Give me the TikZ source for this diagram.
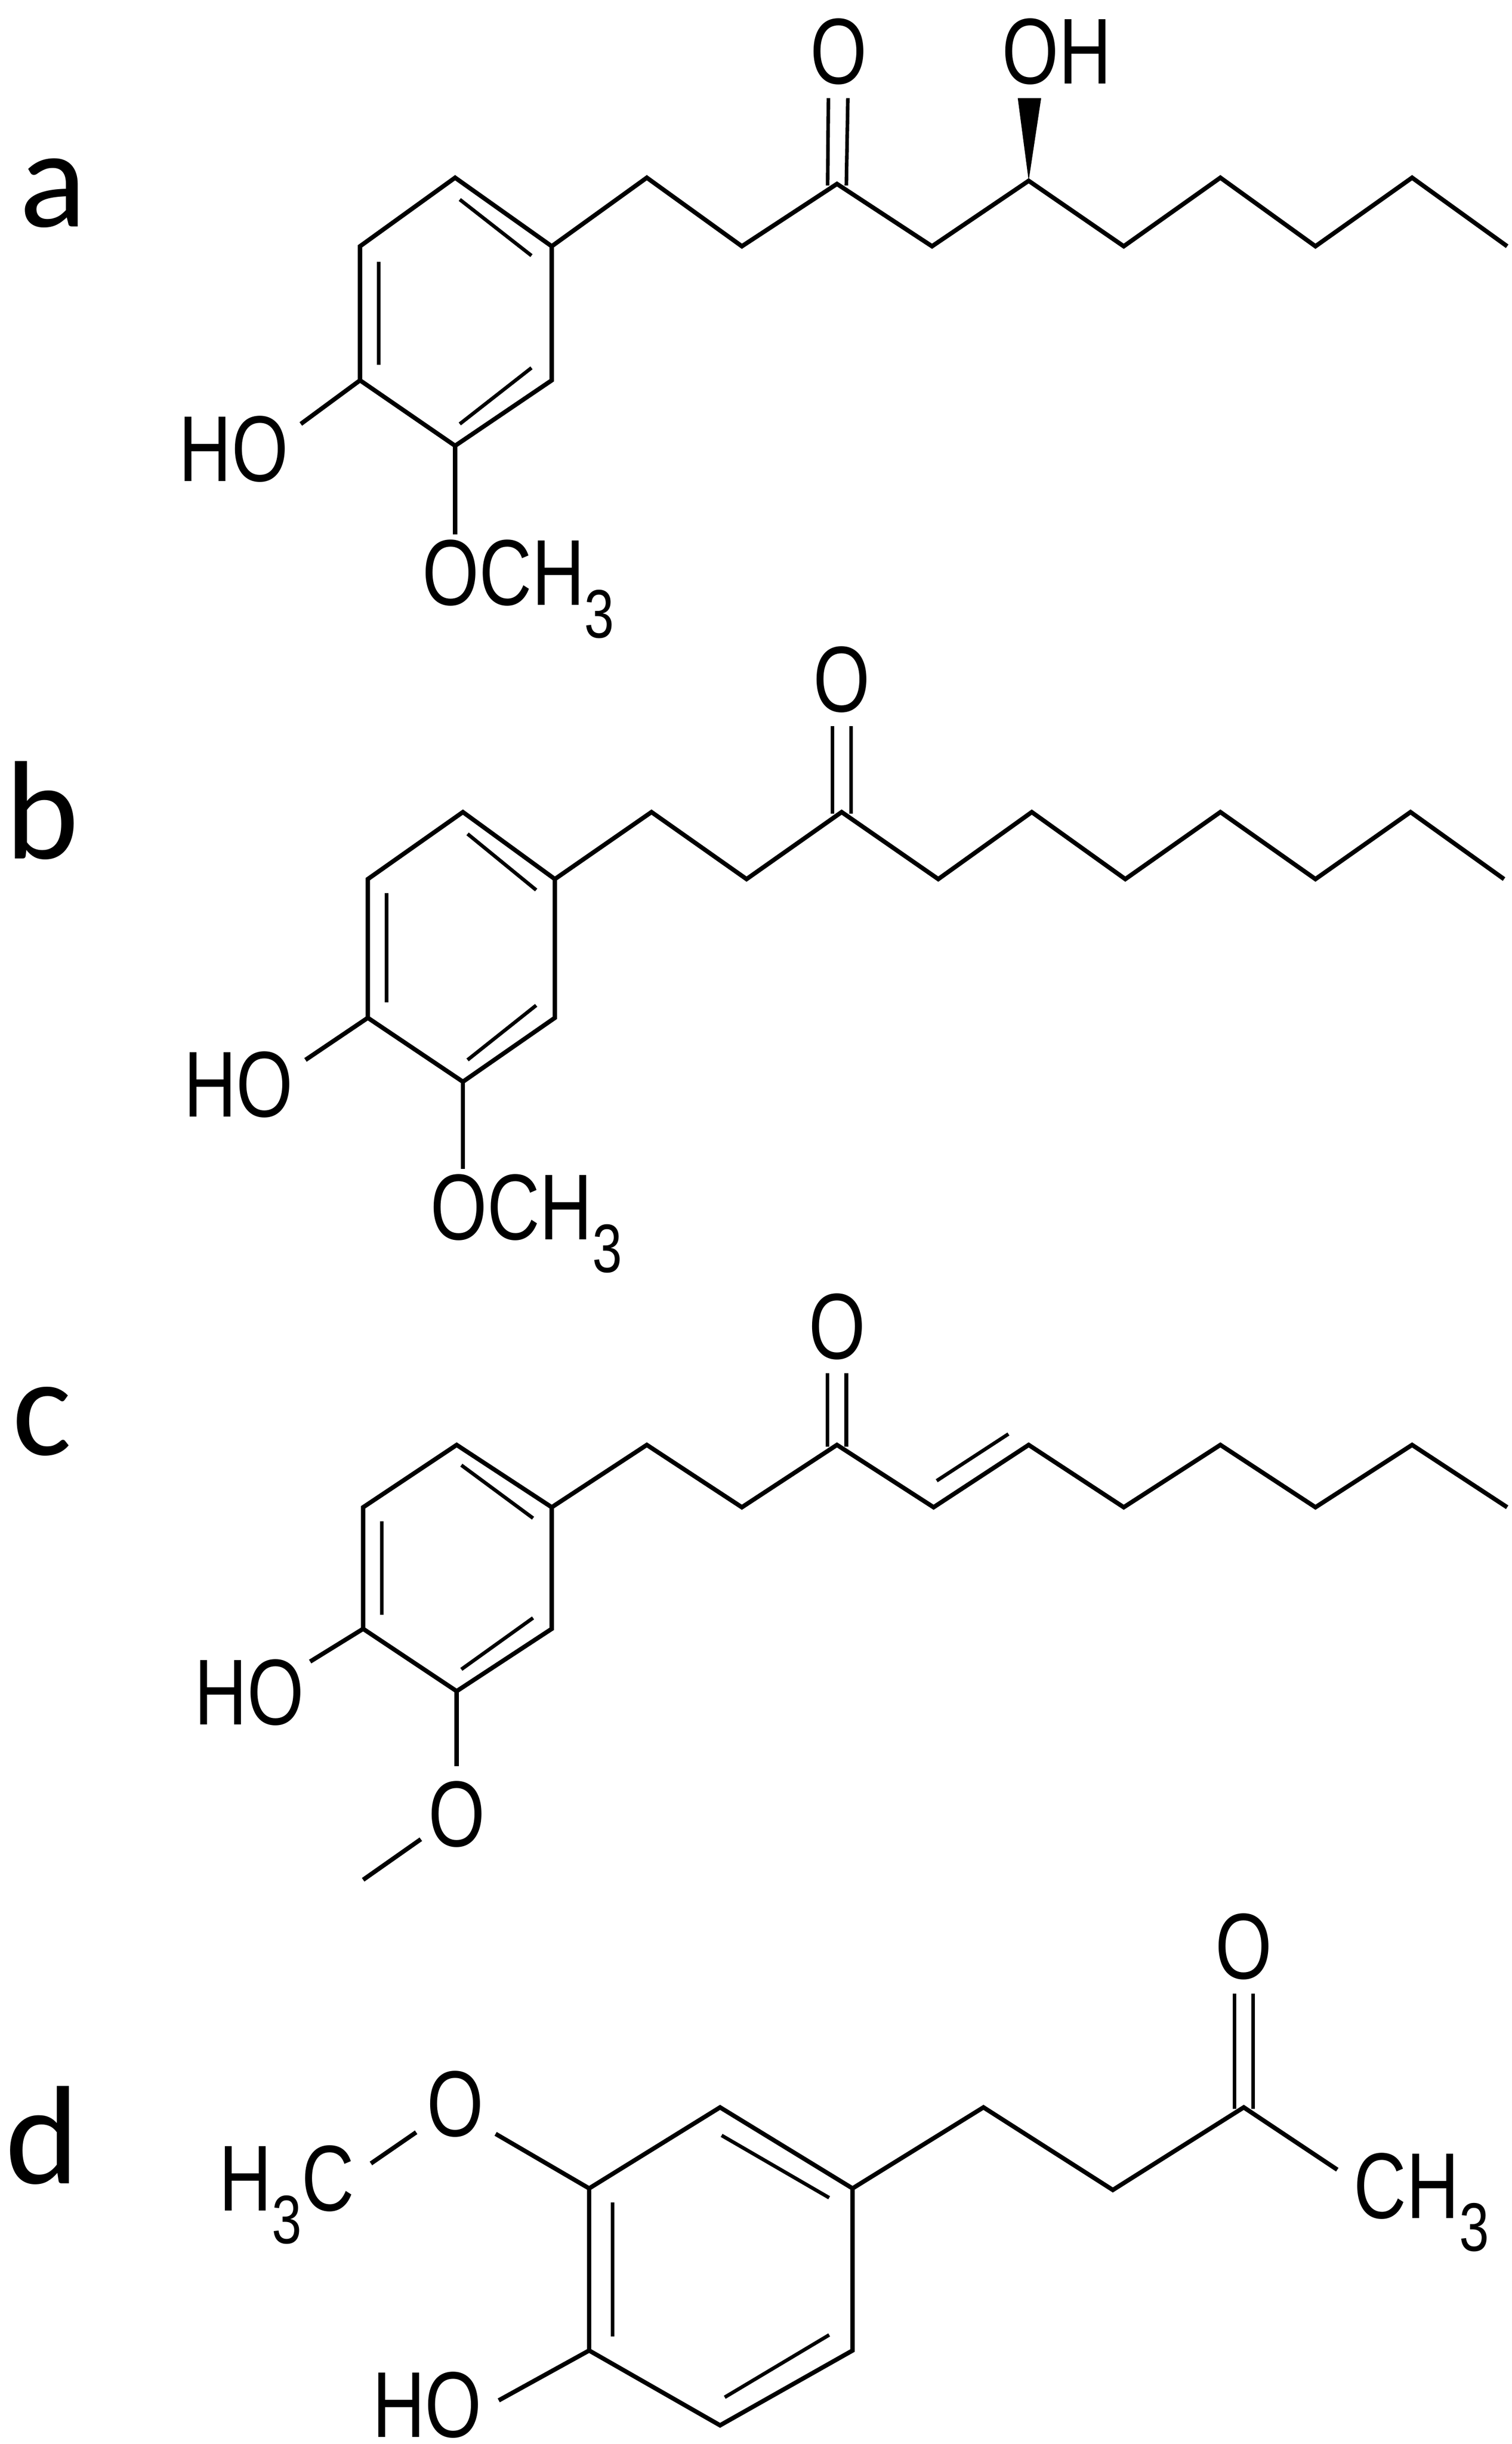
\documentclass[tikz,border=0pt]{standalone}
\usepackage{fontspec}
\usetikzlibrary{calc}
\setmainfont{Liberation Sans}
\newfontfamily\lblfont{Carlito}
\begin{document}
\begin{tikzpicture}[x=1pt,y=-1pt,line width=2.8pt,line join=miter,
  atom/.style={inner sep=0pt,font=\fontsize{60}{66}\selectfont,xscale=0.78},
  panel/.style={inner sep=0pt,font=\lblfont\fontsize{90}{92}\selectfont},
  bond/.style={draw=black}]
\useasboundingbox (0,0) rectangle (970,1568);
\newcommand{\sub}[1]{\raisebox{-0.35em}{\fontsize{44}{44}\selectfont #1}}
% ---------- a ----------
\node[panel] (la) at (34,124) {a};
\coordinate (aR1) at (292,114); \coordinate (aR2) at (354,158); \coordinate (aR3) at (354,244);
\coordinate (aR4) at (292,286); \coordinate (aR5) at (231,244); \coordinate (aR6) at (231,158);
\draw[bond] (aR1)--(aR2)--(aR3)--(aR4)--(aR5)--(aR6)--cycle;
\coordinate (aI1) at (295,128); \coordinate (aI2) at (341,164);
\coordinate (aI3) at (243,168); \coordinate (aI4) at (243,234);
\coordinate (aI5) at (341,236); \coordinate (aI6) at (295,272);
\draw[bond,line width=2.3pt] (aI1)--(aI2) (aI3)--(aI4) (aI5)--(aI6);
\foreach \x/\y [count=\i] in {415/114,476/158,537/118,598/158,660/116,721/158,783/114,844/158,906/114,967/158}
  \coordinate (aC\i) at (\x,\y);
\draw[bond] (aR2)--(aC1)--(aC2)--(aC3)--(aC4)--(aC5)--(aC6)--(aC7)--(aC8)--(aC9)--(aC10);
\coordinate (aOa) at (531.5,63); \coordinate (aOb) at (544,63);
\draw[bond,line width=2.3pt] ($(aC3)+(-6,1)$) -- (aOa) ($(aC3)+(6,1)$) -- (aOb);
\node[atom] (aO) at (538,33) {O};
\node[atom] (aOH) at (678,33) {OH};
\coordinate (aW1) at (653,63); \coordinate (aW2) at (668,63);
\fill (aC5) -- (aW1) -- (aW2) -- cycle;
\node[atom] (aHO) at (150,288) {HO};
\coordinate (aHOe) at (193,272);
\draw[bond] (aR5)--(aHOe);
\coordinate (aMe) at (292,343);
\draw[bond] (aR4)--(aMe);
\node[atom,anchor=west] (aOMe) at (270,378) {OCH\sub{3}};
% ---------- b ----------
\node[panel] (lb) at (27,520) {b};
\coordinate (bR1) at (297,521); \coordinate (bR2) at (356,564); \coordinate (bR3) at (356,653);
\coordinate (bR4) at (297,694); \coordinate (bR5) at (236,653); \coordinate (bR6) at (236,564);
\draw[bond] (bR1)--(bR2)--(bR3)--(bR4)--(bR5)--(bR6)--cycle;
\coordinate (bI1) at (300,535); \coordinate (bI2) at (344,571);
\coordinate (bI3) at (248,573); \coordinate (bI4) at (248,643);
\coordinate (bI5) at (344,645); \coordinate (bI6) at (300,680);
\draw[bond,line width=2.3pt] (bI1)--(bI2) (bI3)--(bI4) (bI5)--(bI6);
\foreach \x/\y [count=\i] in {418/521,479/564,540/521,602/564,662/521,722/564,783/521,844/564,905/521,965/564}
  \coordinate (bC\i) at (\x,\y);
\draw[bond] (bR2)--(bC1)--(bC2)--(bC3)--(bC4)--(bC5)--(bC6)--(bC7)--(bC8)--(bC9)--(bC10);
\coordinate (bOa) at (534,466); \coordinate (bOb) at (546,466);
\draw[bond,line width=2.3pt] ($(bC3)+(-6,1)$) -- (bOa) ($(bC3)+(6,1)$) -- (bOb);
\node[atom] (bO) at (540,436) {O};
\node[atom] (bHO) at (153,696) {HO};
\coordinate (bHOe) at (196,680);
\draw[bond] (bR5)--(bHOe);
\coordinate (bMe) at (297,750);
\draw[bond] (bR4)--(bMe);
\node[atom,anchor=west] (bOMe) at (275,785) {OCH\sub{3}};
% ---------- c ----------
\node[panel] (lc) at (27,912) {c};
\coordinate (cR1) at (293,927); \coordinate (cR2) at (354,967); \coordinate (cR3) at (354,1045);
\coordinate (cR4) at (293,1085); \coordinate (cR5) at (233,1045); \coordinate (cR6) at (233,967);
\draw[bond] (cR1)--(cR2)--(cR3)--(cR4)--(cR5)--(cR6)--cycle;
\coordinate (cI1) at (296,940); \coordinate (cI2) at (342,974);
\coordinate (cI3) at (245,976); \coordinate (cI4) at (245,1036);
\coordinate (cI5) at (342,1038); \coordinate (cI6) at (296,1071);
\draw[bond,line width=2.3pt] (cI1)--(cI2) (cI3)--(cI4) (cI5)--(cI6);
\foreach \x/\y [count=\i] in {415/927,476/967,537/927,599/967,660/927,721/967,783/927,844/967,906/927,967/967}
  \coordinate (cC\i) at (\x,\y);
\draw[bond] (cR2)--(cC1)--(cC2)--(cC3)--(cC4)--(cC5)--(cC6)--(cC7)--(cC8)--(cC9)--(cC10);
\coordinate (cD1) at (601,950); \coordinate (cD2) at (647,920);
\draw[bond,line width=2.3pt] (cD1)--(cD2);
\coordinate (cOa) at (531,881); \coordinate (cOb) at (543,881);
\draw[bond,line width=2.3pt] ($(cC3)+(-6,1)$) -- (cOa) ($(cC3)+(6,1)$) -- (cOb);
\node[atom] (cO) at (537,851) {O};
\node[atom] (cHO) at (160,1086) {HO};
\coordinate (cHOe) at (199,1066);
\draw[bond] (cR5)--(cHOe);
\coordinate (cOe) at (293,1133);
\draw[bond] (cR4)--(cOe);
\node[atom] (cOM) at (293,1164) {O};
\coordinate (cM1) at (270,1180); \coordinate (cM2) at (233,1206);
\draw[bond] (cM1)--(cM2);
% ---------- d ----------
\node[panel] (ld) at (27,1370) {d};
\coordinate (dR1) at (462,1352); \coordinate (dR2) at (547,1404); \coordinate (dR3) at (547,1508);
\coordinate (dR4) at (462,1556); \coordinate (dR5) at (378,1508); \coordinate (dR6) at (378,1404);
\draw[bond] (dR1)--(dR2)--(dR3)--(dR4)--(dR5)--(dR6)--cycle;
\coordinate (dI1) at (463,1370); \coordinate (dI2) at (532,1410);
\coordinate (dI3) at (393,1413); \coordinate (dI4) at (393,1499);
\coordinate (dI5) at (532,1498); \coordinate (dI6) at (465,1538);
\draw[bond,line width=2.3pt] (dI1)--(dI2) (dI3)--(dI4) (dI5)--(dI6);
\coordinate (dC1) at (631,1352); \coordinate (dC2) at (714,1405); \coordinate (dC3) at (798,1352);
\coordinate (dC4) at (858,1392);
\draw[bond] (dR2)--(dC1)--(dC2)--(dC3)--(dC4);
\node[atom] (dCH3) at (912,1413) {CH\sub{3}};
\coordinate (dOa) at (792,1279); \coordinate (dOb) at (804,1279);
\draw[bond,line width=2.3pt] ($(dC3)+(-6,1)$) -- (dOa) ($(dC3)+(6,1)$) -- (dOb);
\node[atom] (dO) at (798,1249) {O};
\coordinate (dMO) at (318,1369);
\draw[bond] (dR6)--(dMO);
\node[atom] (dOM) at (292,1350) {O};
\coordinate (dM1) at (267,1368); \coordinate (dM2) at (238,1388);
\draw[bond] (dM1)--(dM2);
\node[atom] (dH3C) at (184,1408) {H\sub{3}C};
\coordinate (dHOe) at (320,1540);
\draw[bond] (dR5)--(dHOe);
\node[atom] (dHO) at (274,1543) {HO};
\end{tikzpicture}
\end{document}
